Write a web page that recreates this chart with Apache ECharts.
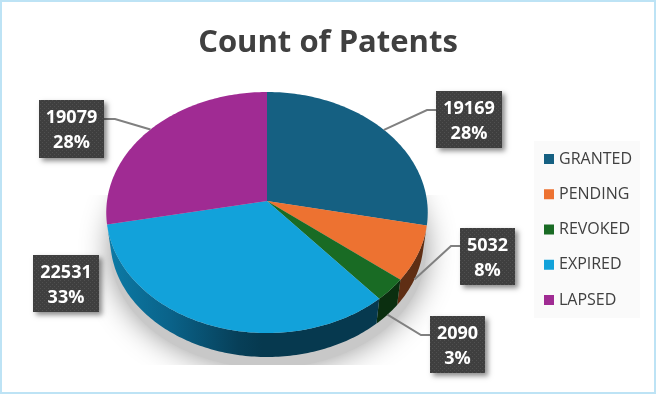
<!DOCTYPE html>
<html>
<head>
<meta charset="utf-8">
<style>
  html, body { margin: 0; padding: 0; background: #fff; }
  #chart { width: 656px; height: 394px; }
</style>
<script src="https://cdn.jsdelivr.net/npm/echarts@6/dist/echarts.min.js"></script>
</head>
<body>
<div id="chart"></div>
<script>
const categories = ['GRANTED', 'PENDING', 'REVOKED', 'EXPIRED', 'LAPSED'];
const counts = [19169, 5032, 2090, 22531, 19079];
const percentLabels = ['28%', '8%', '3%', '33%', '28%'];

const colors = ['#156082', '#ED7231', '#196B24', '#12A2DA', '#A02B93'];
// the side wall of GRANTED and LAPSED is hidden behind the top face
const wallColors = [null, '#5F2E14', '#0B2F10', null, null];

// label box [x, y, w, h], elbow [x, y] of the leader (null = no leader), leader starts on rim or base
const labelBoxes = [[436, 91, 66, 57], [460, 228, 55, 57], [430, 316, 55, 57], [33, 255, 66, 57], [39, 100, 65, 58]];
const elbows = [[427, 110], [451, 246], [421, 335], null, [115, 119]];
const leaderOnBase = [false, true, true, false, false];

// perspective pie: top face ellipse, and the base a bit smaller and lower
const CX = 267, CY = 201, RX = 160, RY = 119.4, PERSP = 0.0954;
const BASE_SCALE = 0.975, BASE_CY = 228.3;

const total = counts.reduce((a, b) => a + b, 0);
const angles = [0];
counts.forEach((c, i) => angles.push(angles[i] + c / total * 360));

function project(deg, base) {
  const t = deg * Math.PI / 180;
  const u = Math.sin(t), v = -Math.cos(t);
  const d = 1 - PERSP * v;
  const s = base ? BASE_SCALE : 1;
  return [CX + s * RX * u / d, (base ? BASE_CY : CY) + s * RY * v / d];
}

function arc(from, to, base) {
  const pts = [];
  const n = Math.max(2, Math.ceil(Math.abs(to - from)));
  for (let k = 0; k <= n; k++) pts.push(project(from + (to - from) * k / n, base));
  return pts;
}

function dotPattern() {
  const c = document.createElement('canvas');
  c.width = c.height = 4;
  const g = c.getContext('2d');
  g.fillStyle = '#3F3F3F';
  g.fillRect(0, 0, 4, 4);
  g.fillStyle = '#505050';
  g.fillRect(0, 0, 1, 1);
  g.fillRect(2, 2, 1, 1);
  return c;
}
const pattern = { image: dotPattern(), repeat: 'repeat' };

function wallFill(i) {
  if (i !== 3) return wallColors[i];
  return new echarts.graphic.LinearGradient(107, 0, 262, 0, [
    { offset: 0, color: '#0C7BA6' },
    { offset: 0.4, color: '#0A638A' },
    { offset: 0.85, color: '#073F58' },
    { offset: 1, color: '#06394F' }
  ], true);
}

function renderSlice(i) {
  const a0 = angles[i], a1 = angles[i + 1];
  const children = [];
  const w0 = Math.max(a0, 90), w1 = Math.min(a1, 270);
  if (w1 > w0 && wallFill(i)) {
    children.push({
      type: 'polygon',
      shape: { points: arc(w0, w1, false).concat(arc(w1, w0, true)) },
      style: { fill: wallFill(i) }
    });
  }
  children.push({
    type: 'polygon',
    shape: { points: [[CX, CY]].concat(arc(a0, a1, false)) },
    style: { fill: colors[i] }
  });
  return { type: 'group', children };
}

function renderLabel(i) {
  const b = labelBoxes[i];
  const children = [];
  if (elbows[i]) {
    const start = project((angles[i] + angles[i + 1]) / 2, leaderOnBase[i]);
    const right = elbows[i][0] > CX;
    children.push({
      type: 'polyline',
      shape: { points: [start, elbows[i], [right ? b[0] : b[0] + b[2], elbows[i][1]]] },
      style: { stroke: '#808080', lineWidth: 2, fill: null }
    });
  }
  children.push({
    type: 'rect',
    shape: { x: b[0], y: b[1], width: b[2], height: b[3] },
    style: { fill: '#404040', shadowBlur: 5, shadowOffsetX: 3, shadowOffsetY: 3, shadowColor: 'rgba(0,0,0,0.45)' }
  });
  children.push({
    type: 'rect',
    shape: { x: b[0], y: b[1], width: b[2], height: b[3] },
    style: { fill: pattern }
  });
  [String(counts[i]), percentLabels[i]].forEach((t, k) => {
    children.push({
      type: 'text',
      style: {
        text: t, x: b[0] + b[2] / 2, y: b[1] + 18 + k * 25,
        fill: '#fff', font: 'bold 18px "Open Sans"', textAlign: 'center', textVerticalAlign: 'middle'
      }
    });
  });
  return { type: 'group', children };
}

function renderShadow() {
  const pts = [];
  for (let d = 0; d < 360; d += 3) {
    const t = d * Math.PI / 180;
    pts.push([268 + 158 * Math.sin(t), 250 - 118 * Math.cos(t)]);
  }
  return {
    type: 'polygon',
    shape: { points: pts },
    style: { fill: '#C8C8C8', shadowBlur: 30, shadowColor: 'rgba(0,0,0,0.42)' },
    clipPath: { type: 'rect', shape: { x: 0, y: 195, width: 656, height: 170 } }
  };
}

const series = [{
  name: 'shadow', type: 'custom', coordinateSystem: 'none', silent: true, z: 1,
  data: [[0]], renderItem: renderShadow
}];
categories.forEach((name, i) => {
  series.push({
    name, type: 'custom', coordinateSystem: 'none', silent: true, z: 2,
    itemStyle: { color: colors[i] },
    data: [[counts[i]]], renderItem: () => renderSlice(i)
  });
});
categories.forEach((name, i) => {
  series.push({
    name: name + ' label', type: 'custom', coordinateSystem: 'none', silent: true, z: 3,
    data: [[counts[i]]], renderItem: () => renderLabel(i)
  });
});

const chart = echarts.init(document.getElementById('chart'), null, { renderer: 'canvas' });
chart.setOption({
  animation: false,
  backgroundColor: '#fff',
  title: {
    text: 'Count of Patents', left: 323, top: 23, textAlign: 'center',
    textStyle: { fontFamily: '"Open Sans"', fontSize: 31, fontWeight: 'bold', color: '#404040' }
  },
  legend: {
    data: categories, orient: 'vertical', left: 534, top: 141,
    padding: [10, 8, 10, 10], itemWidth: 10, itemHeight: 10, itemGap: 19.25, icon: 'rect',
    backgroundColor: '#FAFAFA', selectedMode: false,
    textStyle: { fontFamily: '"Open Sans"', fontSize: 16, color: '#404040' }
  },
  graphic: [{
    type: 'rect', silent: true, z: 100,
    shape: { x: 1, y: 1, width: 654, height: 392 },
    style: { fill: null, stroke: '#BDE3F5', lineWidth: 2 }
  }],
  series
});
</script>
</body>
</html>
